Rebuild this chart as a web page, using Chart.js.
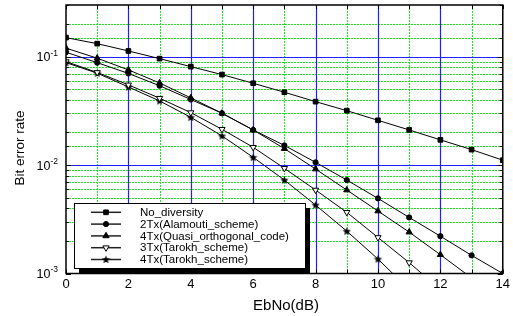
<!DOCTYPE html>
<html>
<head>
<meta charset="utf-8">
<script src="https://cdn.jsdelivr.net/npm/chart.js"></script>
<style>
  html, body { margin: 0; padding: 0; background: #fff; }
  #wrap { width: 513px; height: 316px; }
</style>
</head>
<body>
<div id="wrap"><canvas id="berChart" width="513" height="316"></canvas></div>
<script>
// EbNo (dB) and BER
const ebno = [0, 1, 2, 3, 4, 5, 6, 7, 8, 9, 10, 11, 12, 13, 14];
const noDiversity = [0.150, 0.132, 0.113, 0.0960, 0.0810, 0.0684, 0.0569, 0.0470, 0.0385, 0.0318, 0.0259, 0.0211, 0.0171, 0.0139, 0.0111];
const alamouti2Tx = [0.110, 0.0882, 0.0701, 0.0540, 0.0403, 0.0301, 0.0211, 0.0152, 0.0106, 0.00728, 0.00493, 0.00329, 0.00221, 0.00147, 0.00100];
const quasiOrth4Tx = [0.120, 0.0969, 0.0756, 0.0573, 0.0417, 0.0301, 0.0211, 0.0142, 0.0092, 0.00589, 0.00377, 0.00241, 0.00149, 0.00091, 0.00056];
const tarokh3Tx = [0.0901, 0.0716, 0.0550, 0.0414, 0.0305, 0.0214, 0.0146, 0.00934, 0.00589, 0.00367, 0.00215, 0.00126, 0.00071];
const tarokh4Tx = [0.0882, 0.0705, 0.0526, 0.0391, 0.0276, 0.0186, 0.0118, 0.00728, 0.00428, 0.00246, 0.00136, 0.00071];

const seriesLabels = ['No_diversity', '2Tx(Alamouti_scheme)', '4Tx(Quasi_orthogonal_code)', '3Tx(Tarokh_scheme)', '4Tx(Tarokh_scheme)'];
const yDecades = [1e-1, 1e-2, 1e-3];
const yDecadeExp = ['-1', '-2', '-3'];

const FONT = '"Liberation Sans", Arial, Helvetica, sans-serif';

// small filled star used as marker
const starImg = document.createElement('canvas');
starImg.width = 9; starImg.height = 9;
(function () {
    const c = starImg.getContext('2d');
    c.beginPath();
    for (let i = 0; i < 10; i++) {
        const r = i % 2 === 0 ? 4.4 : 1.9;
        const a = -Math.PI / 2 + i * Math.PI / 5;
        const px = 4.5 + r * Math.cos(a), py = 4.8 + r * Math.sin(a);
        i === 0 ? c.moveTo(px, py) : c.lineTo(px, py);
    }
    c.closePath();
    c.fillStyle = '#000';
    c.fill();
})();

const toXY = arr => arr.map((v, i) => ({ x: ebno[i], y: v }));

const makeSet = (label, values, style) => Object.assign({
    label: label,
    data: toXY(values),
    borderColor: '#000',
    borderWidth: 1,
    pointBorderColor: '#000',
    pointBackgroundColor: '#000',
    pointBorderWidth: 1,
    tension: 0,
    fill: false
}, style);

const datasets = [
    makeSet(seriesLabels[0], noDiversity, { pointStyle: 'rect', pointRadius: 3.3 }),
    makeSet(seriesLabels[1], alamouti2Tx, { pointStyle: 'circle', pointRadius: 2.6 }),
    makeSet(seriesLabels[2], quasiOrth4Tx, { pointStyle: 'triangle', pointRadius: 3.6 }),
    makeSet(seriesLabels[3], tarokh3Tx, { pointStyle: 'triangle', pointRotation: 180, pointRadius: 3.6, pointBackgroundColor: '#fff' }),
    makeSet(seriesLabels[4], tarokh4Tx, { pointStyle: starImg, pointRadius: 4 })
];

const isDecade = v => Math.abs(Math.log10(v) - Math.round(Math.log10(v))) < 1e-6;

function gridLine(ctx, x1, y1, x2, y2, major) {
    ctx.beginPath();
    if (major) {
        ctx.strokeStyle = 'rgb(30,30,255)';
        ctx.lineWidth = 1.2;
        ctx.setLineDash([]);
    } else {
        ctx.strokeStyle = '#1ee61e';
        ctx.lineWidth = 1;
        ctx.setLineDash([2, 1]);
    }
    ctx.moveTo(x1, y1);
    ctx.lineTo(x2, y2);
    ctx.stroke();
}

const berPlugin = {
    id: 'berPlugin',
    beforeDatasetsDraw(chart) {
        const { ctx, chartArea: a, scales: { x, y } } = chart;
        ctx.save();
        // minor first, majors on top
        [false, true].forEach(pass => {
            y.ticks.forEach(t => {
                if (t.value <= y.min * 1.0001 || t.value >= y.max * 0.9999) return;
                if (isDecade(t.value) !== pass) return;
                const py = Math.round(y.getPixelForValue(t.value)) + 0.5;
                gridLine(ctx, a.left, py, a.right, py, pass);
            });
            x.ticks.forEach(t => {
                if (t.value <= x.min || t.value >= x.max) return;
                if ((t.value % 2 === 0) !== pass) return;
                const px = Math.round(x.getPixelForValue(t.value)) + 0.5;
                gridLine(ctx, px, a.top, px, a.bottom, pass);
            });
        });
        ctx.restore();
    },
    afterDatasetsDraw(chart) {
        const { ctx, chartArea: a, scales: { x, y } } = chart;
        ctx.save();
        ctx.setLineDash([]);

        // inward tick marks on all four sides
        ctx.strokeStyle = '#000';
        ctx.lineWidth = 1;
        y.ticks.forEach(t => {
            const py = Math.round(y.getPixelForValue(t.value)) + 0.5;
            const len = isDecade(t.value) ? 5 : 3;
            ctx.beginPath();
            ctx.moveTo(a.left, py); ctx.lineTo(a.left + len, py);
            ctx.moveTo(a.right, py); ctx.lineTo(a.right - len, py);
            ctx.stroke();
        });
        x.ticks.forEach(t => {
            const px = Math.round(x.getPixelForValue(t.value)) + 0.5;
            ctx.beginPath();
            ctx.moveTo(px, a.top); ctx.lineTo(px, a.top + 4);
            ctx.moveTo(px, a.bottom); ctx.lineTo(px, a.bottom - 4);
            ctx.stroke();
        });

        // legend box with drop shadow
        const bx = 74, by = 203, bw = 231, bh = 65;
        ctx.fillStyle = '#000';
        ctx.fillRect(bx + 5, by + 5, bw, Math.min(bh, a.bottom - by - 5));
        ctx.fillStyle = '#fff';
        ctx.fillRect(bx, by, bw, bh);
        ctx.strokeStyle = '#000';
        ctx.lineWidth = 1;
        ctx.strokeRect(bx + 0.5, by + 0.5, bw, bh);

        chart.data.datasets.forEach((ds, i) => {
            const ry = 212.3 + i * 11.8;
            ctx.strokeStyle = '#222';
            ctx.lineWidth = 1.5;
            ctx.beginPath();
            ctx.moveTo(91, ry); ctx.lineTo(121, ry);
            ctx.stroke();
            ctx.fillStyle = ds.pointBackgroundColor;
            ctx.strokeStyle = ds.pointBorderColor;
            ctx.lineWidth = 1;
            Chart.helpers.drawPoint(ctx, {
                pointStyle: ds.pointStyle,
                rotation: ds.pointRotation || 0,
                radius: ds.pointRadius,
                borderWidth: 1
            }, 106, ry);
            ctx.fillStyle = '#000';
            ctx.font = '11.5px ' + FONT;
            ctx.textAlign = 'left';
            ctx.textBaseline = 'middle';
            ctx.fillText(ds.label, 140, ry + 0.5);
        });

        // frame
        ctx.strokeStyle = '#000';
        ctx.lineWidth = 1.5;
        ctx.strokeRect(a.left, a.top, a.right - a.left, a.bottom - a.top);

        // y tick labels 10^n
        ctx.fillStyle = '#000';
        yDecades.forEach((v, i) => {
            const py = y.getPixelForValue(v);
            ctx.font = '12.5px ' + FONT;
            ctx.textAlign = 'right';
            ctx.textBaseline = 'middle';
            ctx.fillText('10', 50.5, py + 1);
            ctx.font = '8.5px ' + FONT;
            ctx.textAlign = 'left';
            ctx.fillText(yDecadeExp[i], 50.5, py - 3.5);
        });

        // axis titles
        ctx.font = '13.5px ' + FONT;
        ctx.textAlign = 'center';
        ctx.textBaseline = 'middle';
        ctx.save();
        ctx.translate(20.5, 148);
        ctx.rotate(-Math.PI / 2);
        ctx.fillText('Bit error rate', 0, 0);
        ctx.restore();
        ctx.font = '15px ' + FONT;
        ctx.fillText('EbNo(dB)', 286, 305.5);

        ctx.restore();
    }
};

new Chart(document.getElementById('berChart'), {
    type: 'line',
    data: { datasets: datasets },
    options: {
        responsive: false,
        animation: false,
        events: [],
        layout: { padding: { top: 5, right: 9, left: 0, bottom: 0 } },
        plugins: { legend: { display: false }, tooltip: { enabled: false } },
        scales: {
            x: {
                type: 'linear',
                min: 0,
                max: 14,
                afterFit: s => { s.height = 42.5; },
                grid: { display: false, drawTicks: false },
                border: { display: false },
                ticks: {
                    stepSize: 1,
                    autoSkip: false,
                    maxRotation: 0,
                    padding: 3,
                    color: '#000',
                    font: { family: FONT, size: 13 },
                    callback: v => (v % 2 === 0 ? String(v) : '')
                }
            },
            y: {
                type: 'logarithmic',
                min: 0.001,
                max: 0.3,
                afterFit: s => { s.width = 66; },
                grid: { display: false, drawTicks: false },
                border: { display: false },
                ticks: { display: false }
            }
        }
    },
    plugins: [berPlugin]
});
</script>
</body>
</html>
